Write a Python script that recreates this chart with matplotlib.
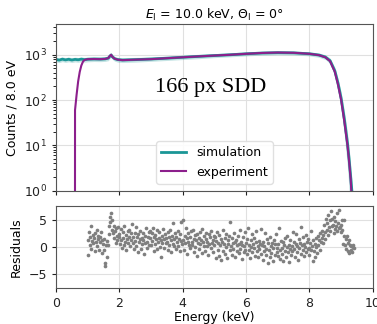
import numpy as np
import matplotlib
matplotlib.use("Agg")
import matplotlib.pyplot as plt

# ---- spectrum data (counts per 8 eV bin) ----
sim_energy = [0.0, 0.1, 0.2, 0.3, 0.4, 0.5, 0.6, 0.7, 0.8, 0.9, 1.0, 1.2, 1.4, 1.55, 1.65, 1.70, 1.74,
              1.78, 1.85, 1.95, 2.1, 2.5, 3.0, 3.5, 4.0, 4.5, 5.0, 5.5, 6.0, 6.5, 7.0, 7.5, 8.0, 8.3,
              8.5, 8.65, 8.8, 8.9, 9.0, 9.1, 9.2, 9.25, 9.3, 9.35]
sim_counts = [790, 760, 800, 770, 795, 765, 790, 775, 800, 780, 795, 805, 800, 810, 840, 930, 990,
              900, 820, 780, 765, 780, 805, 840, 880, 920, 960, 1000, 1050, 1090, 1110, 1100, 1050, 985,
              890, 740, 440, 235, 108, 38, 11, 5.0, 2.0, 0.8]
sim_relerr = [0.12, 0.12, 0.12, 0.12, 0.12, 0.12, 0.12, 0.12, 0.12, 0.12, 0.12, 0.12, 0.12, 0.12, 0.12, 0.12, 0.12,
              0.12, 0.12, 0.12, 0.12, 0.12, 0.11, 0.11, 0.11, 0.11, 0.10, 0.10, 0.10, 0.10, 0.10, 0.10, 0.10, 0.11,
              0.12, 0.14, 0.20, 0.28, 0.40, 0.55, 0.70, 0.80, 0.85, 0.90]

exp_energy = [0.60, 0.601, 0.65, 0.70, 0.75, 0.80, 0.85, 0.90, 1.0, 1.2, 1.4, 1.55, 1.65, 1.70, 1.74,
              1.78, 1.85, 1.95, 2.1, 2.5, 3.0, 3.5, 4.0, 4.5, 5.0, 5.5, 6.0, 6.5, 7.0, 7.5, 8.0, 8.3,
              8.5, 8.65, 8.8, 8.9, 9.0, 9.1, 9.2, 9.25, 9.3, 9.32]
exp_counts = [1.0, 60, 130, 260, 420, 580, 700, 770, 800, 805, 800, 810, 845, 940, 1000,
              900, 820, 780, 760, 780, 800, 840, 880, 920, 960, 1000, 1050, 1095, 1120, 1105, 1050, 980,
              880, 720, 420, 220, 100, 34, 10, 4.5, 1.8, 1.0]

# ---- residuals ----
res_start, res_step = 1.0, 0.02
residuals = [
    1.2, -1.5, 2.8, 0.4, 1.9, 3.9, -0.3, 1.1, 2.2, 0.7, 1.6, -0.8, 2.5, 1.0, 3.1, 0.2, 1.4, 2.0, -0.5, 1.8, 0.9, 2.7, -1.1, 1.3, 0.5,
    -0.6, 1.5, -3.5, -2.9, 0.3, -1.8, 1.1, 0.4, 2.3, 3.8, 5.5, 4.6, 6.2, 3.2, 4.9, 2.6, 3.9, 1.7, 2.9, 0.8, 3.4, 2.1, 1.2, 3.6, 1.9,
    2.4, 0.6, 3.3, 1.2, -0.2, 2.8, 1.7, 0.3, 3.9, 1.0, 2.2, -0.6, 1.5, 2.9, 0.8, 3.1, 1.9, 0.1, 2.5, 1.3, 4.2, 0.7, 1.8, -0.4, 2.6,
    1.1, 3.6, 0.2, 1.9, -0.9, 2.4, 0.9, 1.5, 3.0, -0.3, 1.7, 0.5, 2.6, 1.3, -1.2, 2.1, 0.8, 3.4, 1.0, -0.1, 1.9, 2.7, 0.4, 1.6, 2.9,
    0.3, 2.5, 1.1, 3.5, -0.7, 1.8, 0.6, 2.2, 1.4, -0.4, 3.1, 0.9, 1.7, 2.8, 0.0, 1.2, -1.9, 2.0, 0.7, 3.3, 1.5, -0.2, 2.4, 0.8, 1.6,
    1.0, 2.7, -0.5, 1.9, 0.4, 3.2, 1.3, -1.0, 2.1, 0.6, 4.4, 1.5, 0.1, 2.5, -0.3, 1.8, 0.9, 3.0, 0.2, 1.4, -0.8, 2.3, 1.1, 4.6, 0.5,
    4.9, 1.2, -0.6, 2.0, 0.7, 3.4, 1.6, -1.3, 0.9, 2.6, 0.3, 1.8, -0.2, 2.9, 1.0, 0.4, 3.1, -0.9, 1.5, 2.2, 0.0, 1.3, -1.6, 2.4, 0.8,
    1.7, -0.4, 2.8, 0.6, 1.2, -1.1, 3.3, 0.9, 0.2, 2.0, -0.7, 1.5, 2.6, 0.1, 1.0, -1.4, 2.3, 0.5, 1.8, -0.2, 3.0, 0.7, 1.3, -0.9, 2.1,
    0.4, 1.9, -2.0, 1.1, 2.7, -0.5, 0.8, -1.7, 2.2, 0.3, 1.5, -2.3, 0.9, 3.1, -0.8, 0.6, 1.7, -1.2, 2.4, 0.0, -2.1, 1.3, 0.5, 2.0, -0.6,
    4.5, 0.2, -1.5, 1.6, 0.7, -0.4, 2.5, -1.9, 0.9, 1.3, -0.8, 0.3, 2.1, -1.1, 0.6, 3.2, -0.3, 1.0, -2.2, 0.4, 1.8, -0.9, 0.1, 2.7, -0.5,
    0.8, -1.3, 1.5, 3.4, -0.6, 0.3, -2.0, 1.2, 0.0, 2.3, -1.0, 0.5, -0.2, 1.7, -1.6, 0.9, 2.9, -0.7, 0.2, -1.8, 1.1, -0.4, 0.6, 3.3, -1.2,
    0.4, -2.4, 1.0, -0.8, 0.1, 2.6, -1.5, -0.3, 1.4, -2.9, 0.7, -0.6, -1.9, 1.9, 0.2, -1.1, 0.8, -2.6, -0.2, 1.2, -1.4, 0.5, 2.3, -0.9, -0.1,
    -1.7, 0.6, 3.5, -0.5, -2.2, 1.1, -0.1, -1.3, 0.9, -2.5, 0.3, 1.6, -0.8, -1.9, 0.0, 2.1, -1.0, 0.4, -2.7, -0.4, 1.3, -1.5, 0.2, -0.7, 2.8,
    -0.3, 1.0, -1.8, 0.5, 2.4, -0.9, 0.1, -2.3, 1.5, -0.2, 0.8, 3.7, -1.2, 0.3, -0.6, 1.9, -1.6, 0.6, 0.0, 2.2, -1.0, 0.9, -0.4, 1.4, -0.1,
    -1.4, 0.7, 2.9, -0.5, 0.2, -2.6, 1.2, -0.8, 0.5, -1.9, 1.7, 0.0, -1.1, 2.0, 0.4, 1.3, -0.6, 2.5, 0.9, 1.6, 3.0, 0.8, 2.2, 4.1, 1.4,
    2.7, 5.2, 3.1, 4.4, 2.2, 5.8, 3.6, 4.9, 2.9, 6.5, 3.8, 5.1, 4.0, 2.6, 5.5, 3.3, 4.7, 3.9, 6.2, 3.0, 4.3, 3.5, 6.8, 3.7, 4.1,
    2.8, 5.0, 3.2, 0.6, 2.0, 4.9, 0.4, 1.5, -0.3, 2.0, 0.8, -0.8, 1.2, -1.1, 0.3, -0.5, 0.1, -1.0, 0.4, 0.0, -0.2,
]
res_energy = res_start + res_step * np.arange(len(residuals))

x_ticks = [0, 2, 4, 6, 8, 10]
y_ticks_res = [-5, 0, 5]

teal = "#1a9696"
purple = "#8c1f8c"
gray_pts = "#7f7f7f"

plt.rcParams["font.family"] = ["DejaVu Sans"]
plt.rcParams["font.size"] = 9

fig = plt.figure(figsize=(3.77, 3.24), dpi=100)
ax1 = fig.add_axes([0.1485, 0.4114, 0.8405, 0.5136])
ax2 = fig.add_axes([0.1485, 0.1111, 0.8405, 0.2531], sharex=ax1)

sim_e = np.array(sim_energy)
sim_c = np.array(sim_counts)
rel = np.array(sim_relerr)
ax1.fill_between(sim_e, sim_c * (1 - rel), sim_c * (1 + rel), color=teal, alpha=0.25, lw=0)
ax1.plot(sim_e, sim_c, color=teal, lw=2.0, label="simulation")
ax1.plot(exp_energy, exp_counts, color=purple, lw=1.5, label="experiment")

ax1.set_yscale("log")
ax1.set_ylim(1, 4700)
ax1.set_xlim(0, 10)
ax1.set_xticks(x_ticks)
ax1.tick_params(labelbottom=False)
ax1.set_ylabel("Counts / 8.0 eV")
ax1.set_title(r"$E_\mathrm{I}$ = 10.0 keV, $\Theta_\mathrm{I}$ = 0°", fontsize=9, pad=4)
ax1.grid(True, which="major", color="#e0e0e0", lw=0.8)
ax1.set_axisbelow(True)
ax1.text(0.487, 0.62, "166 px SDD", transform=ax1.transAxes, ha="center", va="center",
         family="Liberation Serif", fontsize=16)
leg = ax1.legend(loc="lower center", bbox_to_anchor=(0.5, 0.005), fontsize=9, framealpha=0.9,
                 edgecolor="#dddddd", handlelength=2.0)

ax2.scatter(res_energy, residuals, s=7, color=gray_pts, lw=0)
ax2.set_ylim(-7.5, 7.5)
ax2.set_yticks(y_ticks_res)
ax2.set_xticks(x_ticks)
ax2.set_xlabel("Energy (keV)", labelpad=1)
ax2.set_ylabel("Residuals")
ax2.grid(True, color="#e0e0e0", lw=0.8)
ax2.set_axisbelow(True)

for ax in (ax1, ax2):
    for s in ax.spines.values():
        s.set_color("#555555")
    ax.tick_params(colors="#222222", length=3)

fig.savefig("out.png", dpi=100)
